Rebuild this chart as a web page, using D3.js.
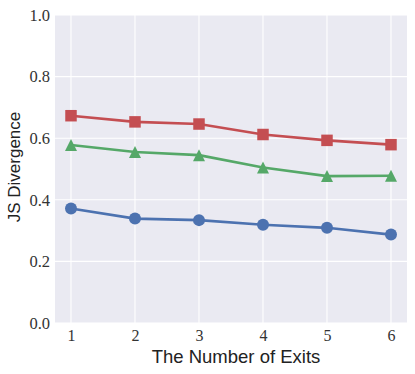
<!DOCTYPE html>
<html><head><meta charset="utf-8">
<script src="https://cdn.jsdelivr.net/npm/d3@7"></script>
<style>body{margin:0;background:#fff}</style>
</head><body>
<svg id="c" width="415" height="374"></svg>
<script>
const exits = [1, 2, 3, 4, 5, 6];
const blueVals = [0.372, 0.339, 0.334, 0.319, 0.309, 0.287];
const greenVals = [0.578, 0.555, 0.545, 0.505, 0.477, 0.478];
const redVals = [0.673, 0.653, 0.646, 0.612, 0.593, 0.579];
const yTicks = [0.0, 0.2, 0.4, 0.6, 0.8, 1.0];
const xLabel = "The Number of Exits";
const yLabel = "JS Divergence";

const svg = d3.select("#c");
const L = 55, R = 407, T = 15, B = 323;
const x = d3.scaleLinear().domain([0.75, 6.25]).range([L, R]);
const y = d3.scaleLinear().domain([0, 1]).range([B, T]);

svg.append("rect").attr("x", L).attr("y", T).attr("width", R - L).attr("height", B - T).attr("fill", "#EAEAF2");

const g = svg.append("g");
g.selectAll(".gx").data(exits).join("line")
  .attr("x1", d => x(d)).attr("x2", d => x(d)).attr("y1", T).attr("y2", B)
  .attr("stroke", "#fff").attr("stroke-width", 1.1);
g.selectAll(".gy").data(yTicks).join("line")
  .attr("x1", L).attr("x2", R).attr("y1", d => y(d)).attr("y2", d => y(d))
  .attr("stroke", "#fff").attr("stroke-width", 1.1);

const serif = "'Liberation Serif', 'DejaVu Serif', serif";
const sans = "'Liberation Sans', Arial, sans-serif";

const ax = svg.append("g").attr("transform", `translate(0,${B})`)
  .call(d3.axisBottom(x).tickValues(exits).tickSize(0).tickPadding(7).tickFormat(d3.format("d")));
ax.select(".domain").remove();
ax.selectAll("text").attr("font-family", serif).attr("font-size", 16).attr("fill", "#333");

const ay = svg.append("g").attr("transform", `translate(${L},0)`)
  .call(d3.axisLeft(y).tickValues(yTicks).tickSize(0).tickPadding(5).tickFormat(d3.format(".1f")));
ay.select(".domain").remove();
ay.selectAll("text").attr("font-family", serif).attr("font-size", 16.5).attr("fill", "#333");

svg.append("text").attr("x", 236).attr("y", 363).attr("text-anchor", "middle")
  .attr("font-family", sans).attr("font-size", 18.5).attr("fill", "#222").text(xLabel);
svg.append("text").attr("transform", `translate(20,167) rotate(-90)`).attr("text-anchor", "middle")
  .attr("font-family", sans).attr("font-size", 17).attr("fill", "#222").text(yLabel);

const m = 12;
const tri = `M0,${-m/2}L${m/2},${m/2}L${-m/2},${m/2}Z`;
const series = [
  {vals: blueVals, color: "#4C72B0", d: d3.symbol().type(d3.symbolCircle).size(Math.PI * (m/2) * (m/2))()},
  {vals: greenVals, color: "#55A868", d: tri},
  {vals: redVals, color: "#C44E52", d: d3.symbol().type(d3.symbolSquare).size(11.5 * 11.5)()}
];
const line = d3.line().x((d, i) => x(exits[i])).y(d => y(d));
series.forEach(s => {
  svg.append("path").attr("d", line(s.vals)).attr("fill", "none")
    .attr("stroke", s.color).attr("stroke-width", 2.6);
  svg.append("g").selectAll("path").data(s.vals).join("path")
    .attr("transform", (d, i) => `translate(${x(exits[i])},${y(d)})`)
    .attr("d", s.d)
    .attr("fill", s.color);
});
</script>
</body></html>
